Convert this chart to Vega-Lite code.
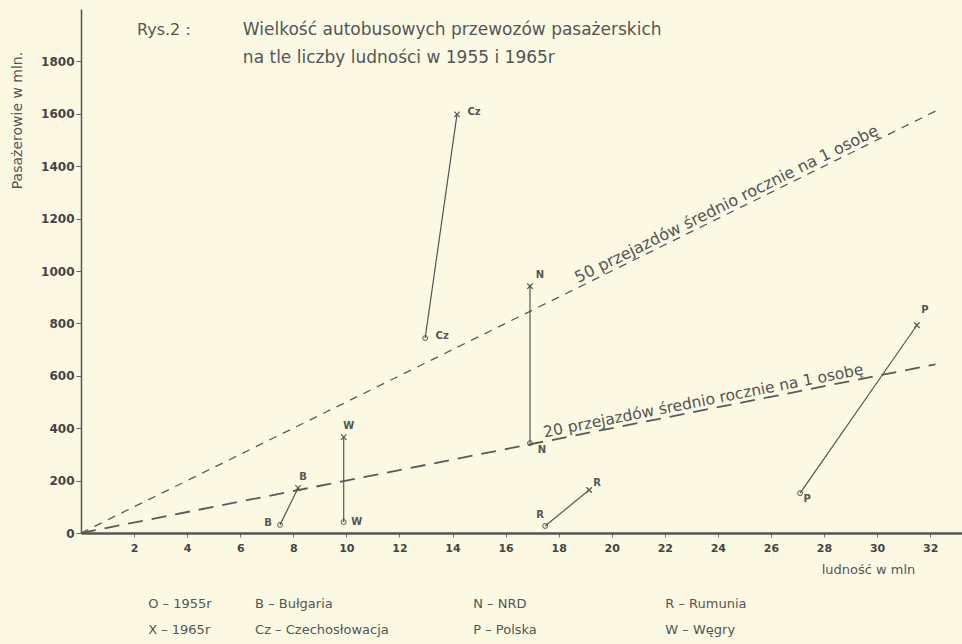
{
  "$schema": "https://vega.github.io/schema/vega-lite/v6.json",
  "width": 881,
  "height": 524,
  "autosize": {"type": "none"},
  "padding": {"left": 81, "top": 9, "right": 0, "bottom": 111},
  "background": "#fbf9e4",
  "config": {
    "view": {"stroke": null},
    "font": "DejaVu Sans",
    "text": {"font": "DejaVu Sans", "color": "#555555"}
  },
  "datasets": {
    "points": [
      {"c": "B", "year": 1955, "pop": 7.5, "pass": 31},
      {"c": "B", "year": 1965, "pop": 8.18, "pass": 172},
      {"c": "W", "year": 1955, "pop": 9.9, "pass": 42},
      {"c": "W", "year": 1965, "pop": 9.9, "pass": 366},
      {"c": "Cz", "year": 1955, "pop": 12.97, "pass": 744},
      {"c": "Cz", "year": 1965, "pop": 14.17, "pass": 1598},
      {"c": "N", "year": 1955, "pop": 16.92, "pass": 343},
      {"c": "N", "year": 1965, "pop": 16.92, "pass": 942},
      {"c": "R", "year": 1955, "pop": 17.49, "pass": 27},
      {"c": "R", "year": 1965, "pop": 19.15, "pass": 164},
      {"c": "P", "year": 1955, "pop": 27.1, "pass": 152},
      {"c": "P", "year": 1965, "pop": 31.5, "pass": 793}
    ],
    "ref": [
      {"rate": "50", "pop": 0, "pass": 0},
      {"rate": "50", "pop": 32.2, "pass": 1610},
      {"rate": "20", "pop": 0, "pass": 0},
      {"rate": "20", "pop": 32.2, "pass": 644}
    ]
  },
  "layer": [
    {
      "data": {"name": "ref"},
      "transform": [{"filter": "datum.rate === '50'"}],
      "mark": {"type": "line", "color": "#5a5a5a", "strokeWidth": 1.3, "strokeDash": [8, 7]},
      "encoding": {
        "detail": {"field": "rate"},
        "x": {
          "field": "pop", "type": "quantitative", "title": "ludność w mln",
          "scale": {"domain": [0, 33.2], "nice": false, "zero": true},
          "axis": {
            "values": [2, 4, 6, 8, 10, 12, 14, 16, 18, 20, 22, 24, 26, 28, 30, 32],
            "grid": false, "domainColor": "#555555", "domainWidth": 2.5,
            "tickColor": "#777777", "tickSize": 4, "tickWidth": 1,
            "labelColor": "#444444", "labelFontSize": 11, "labelFontWeight": "bold",
            "labelPadding": 5, "labelFont": "DejaVu Sans",
            "titleFontSize": 13, "titleFontWeight": "normal",
            "titleColor": "#555555", "titleX": 787, "titleY": 36,
            "titleAlign": "center", "titleBaseline": "middle"
          }
        },
        "y": {
          "field": "pass", "type": "quantitative", "title": "Pasażerowie w mln.",
          "scale": {"domain": [0, 2000], "nice": false},
          "axis": {
            "values": [0, 200, 400, 600, 800, 1000, 1200, 1400, 1600, 1800],
            "format": "d",
            "grid": false, "domainColor": "#555555", "domainWidth": 1.5,
            "tickColor": "#666666", "tickSize": 5, "tickWidth": 1,
            "labelColor": "#444444", "labelFontSize": 12, "labelFontWeight": "bold",
            "labelPadding": 2, "labelFont": "DejaVu Sans",
            "titleFontSize": 14, "titleFontWeight": "normal",
            "titleColor": "#555555", "titleX": -64, "titleY": 111, "titleAngle": -90,
            "titleAlign": "center", "titleBaseline": "middle"
          }
        }
      }
    },
    {
      "data": {"name": "ref"},
      "transform": [{"filter": "datum.rate === '20'"}],
      "mark": {"type": "line", "color": "#5a5a5a", "strokeWidth": 1.8, "strokeDash": [15, 9]},
      "encoding": {
        "detail": {"field": "rate"},
        "x": {"field": "pop", "type": "quantitative", "title": "ludność w mln"},
        "y": {"field": "pass", "type": "quantitative", "title": "Pasażerowie w mln."}
      }
    },
    {
      "data": {"name": "points"},
      "mark": {"type": "line", "color": "#555555", "strokeWidth": 1.2},
      "encoding": {
        "detail": {"field": "c"}, "order": {"field": "year"},
        "x": {"field": "pop", "type": "quantitative", "title": "ludność w mln"},
        "y": {"field": "pass", "type": "quantitative", "title": "Pasażerowie w mln."}
      }
    },
    {
      "data": {"name": "points"},
      "transform": [{"filter": "datum.year === 1955"}],
      "mark": {"type": "point", "shape": "circle", "filled": false, "size": 24, "color": "#555555", "strokeWidth": 1, "opacity": 1},
      "encoding": {
        "x": {"field": "pop", "type": "quantitative", "title": "ludność w mln"},
        "y": {"field": "pass", "type": "quantitative", "title": "Pasażerowie w mln."}
      }
    },
    {
      "data": {"name": "points"},
      "transform": [{"filter": "datum.year === 1965"}],
      "mark": {"type": "point", "shape": "M-1,-1L1,1M-1,1L1,-1", "filled": false, "size": 30, "color": "#555555", "strokeWidth": 1.2, "opacity": 1},
      "encoding": {
        "x": {"field": "pop", "type": "quantitative", "title": "ludność w mln"},
        "y": {"field": "pass", "type": "quantitative", "title": "Pasażerowie w mln."}
      }
    },
    {
      "data": {"name": "points"},
      "transform": [{"filter": "datum.c === 'B' && datum.year === 1955"}],
      "mark": {"type": "text", "fontSize": 10, "fontWeight": "bold", "dx": -12, "dy": -2},
      "encoding": {
        "x": {"field": "pop", "type": "quantitative", "title": "ludność w mln"},
        "y": {"field": "pass", "type": "quantitative", "title": "Pasażerowie w mln."},
        "text": {"field": "c"}
      }
    },
    {
      "data": {"name": "points"},
      "transform": [{"filter": "(datum.c === 'B' || datum.c === 'W') && datum.year === 1965"}],
      "mark": {"type": "text", "fontSize": 10, "fontWeight": "bold", "dx": 5, "dy": -11},
      "encoding": {
        "x": {"field": "pop", "type": "quantitative", "title": "ludność w mln"},
        "y": {"field": "pass", "type": "quantitative", "title": "Pasażerowie w mln."},
        "text": {"field": "c"}
      }
    },
    {
      "data": {"name": "points"},
      "transform": [{"filter": "datum.c === 'W' && datum.year === 1955"}],
      "mark": {"type": "text", "fontSize": 10, "fontWeight": "bold", "dx": 13, "dy": 0},
      "encoding": {
        "x": {"field": "pop", "type": "quantitative", "title": "ludność w mln"},
        "y": {"field": "pass", "type": "quantitative", "title": "Pasażerowie w mln."},
        "text": {"field": "c"}
      }
    },
    {
      "data": {"name": "points"},
      "transform": [{"filter": "datum.c === 'N' && datum.year === 1955"}],
      "mark": {"type": "text", "fontSize": 10, "fontWeight": "bold", "dx": 12, "dy": 7},
      "encoding": {
        "x": {"field": "pop", "type": "quantitative", "title": "ludność w mln"},
        "y": {"field": "pass", "type": "quantitative", "title": "Pasażerowie w mln."},
        "text": {"field": "c"}
      }
    },
    {
      "data": {"name": "points"},
      "transform": [{"filter": "datum.c === 'N' && datum.year === 1965"}],
      "mark": {"type": "text", "fontSize": 10, "fontWeight": "bold", "dx": 10, "dy": -11},
      "encoding": {
        "x": {"field": "pop", "type": "quantitative", "title": "ludność w mln"},
        "y": {"field": "pass", "type": "quantitative", "title": "Pasażerowie w mln."},
        "text": {"field": "c"}
      }
    },
    {
      "data": {"name": "points"},
      "transform": [{"filter": "datum.c === 'Cz'"}],
      "mark": {"type": "text", "fontSize": 10, "fontWeight": "bold", "dx": 17, "dy": -2},
      "encoding": {
        "x": {"field": "pop", "type": "quantitative", "title": "ludność w mln"},
        "y": {"field": "pass", "type": "quantitative", "title": "Pasażerowie w mln."},
        "text": {"field": "c"}
      }
    },
    {
      "data": {"name": "points"},
      "transform": [{"filter": "datum.c === 'R' && datum.year === 1955"}],
      "mark": {"type": "text", "fontSize": 10, "fontWeight": "bold", "dx": -5, "dy": -11},
      "encoding": {
        "x": {"field": "pop", "type": "quantitative", "title": "ludność w mln"},
        "y": {"field": "pass", "type": "quantitative", "title": "Pasażerowie w mln."},
        "text": {"field": "c"}
      }
    },
    {
      "data": {"name": "points"},
      "transform": [{"filter": "datum.c === 'R' && datum.year === 1965"}],
      "mark": {"type": "text", "fontSize": 10, "fontWeight": "bold", "dx": 8, "dy": -7},
      "encoding": {
        "x": {"field": "pop", "type": "quantitative", "title": "ludność w mln"},
        "y": {"field": "pass", "type": "quantitative", "title": "Pasażerowie w mln."},
        "text": {"field": "c"}
      }
    },
    {
      "data": {"name": "points"},
      "transform": [{"filter": "datum.c === 'P' && datum.year === 1955"}],
      "mark": {"type": "text", "fontSize": 10, "fontWeight": "bold", "dx": 7, "dy": 6},
      "encoding": {
        "x": {"field": "pop", "type": "quantitative", "title": "ludność w mln"},
        "y": {"field": "pass", "type": "quantitative", "title": "Pasażerowie w mln."},
        "text": {"field": "c"}
      }
    },
    {
      "data": {"name": "points"},
      "transform": [{"filter": "datum.c === 'P' && datum.year === 1965"}],
      "mark": {"type": "text", "fontSize": 10, "fontWeight": "bold", "dx": 8, "dy": -15},
      "encoding": {
        "x": {"field": "pop", "type": "quantitative", "title": "ludność w mln"},
        "y": {"field": "pass", "type": "quantitative", "title": "Pasażerowie w mln."},
        "text": {"field": "c"}
      }
    },
    {
      "data": {"values": [{"t": "50 przejazdów  średnio rocznie na 1 osobę"}]},
      "mark": {"type": "text", "fontSize": 16, "angle": 333.7, "align": "left", "baseline": "bottom", "dy": -1},
      "encoding": {
        "x": {"datum": 18.8, "type": "quantitative"},
        "y": {"datum": 940, "type": "quantitative"},
        "text": {"field": "t"}
      }
    },
    {
      "data": {"values": [{"t": "20 przejazdów  średnio rocznie na 1 osobę"}]},
      "mark": {"type": "text", "fontSize": 15.5, "angle": 348.8, "align": "left", "baseline": "bottom", "dy": -1},
      "encoding": {
        "x": {"datum": 17.5, "type": "quantitative"},
        "y": {"datum": 350, "type": "quantitative"},
        "text": {"field": "t"}
      }
    },
    {
      "data": {"values": [{"t": "Rys.2 :"}]},
      "mark": {"type": "text", "fontSize": 16, "align": "left", "baseline": "middle"},
      "encoding": {
        "x": {"datum": 2.11, "type": "quantitative"},
        "y": {"datum": 1920, "type": "quantitative"},
        "text": {"field": "t"}
      }
    },
    {
      "data": {"values": [{"t": "Wielkość autobusowych przewozów pasażerskich\nna tle liczby ludności  w 1955 i 1965r"}]},
      "mark": {"type": "text", "fontSize": 17, "align": "left", "baseline": "middle", "lineBreak": "\n", "lineHeight": 28},
      "encoding": {
        "x": {"datum": 6.1, "type": "quantitative"},
        "y": {"datum": 1920, "type": "quantitative"},
        "text": {"field": "t"}
      }
    },
    {
      "data": {"values": [{"t": "O – 1955r\nX – 1965r"}]},
      "mark": {"type": "text", "fontSize": 13, "align": "left", "baseline": "middle", "lineBreak": "\n", "lineHeight": 26},
      "encoding": {
        "x": {"datum": 2.53, "type": "quantitative"},
        "y": {"datum": -271, "type": "quantitative"},
        "text": {"field": "t"}
      }
    },
    {
      "data": {"values": [{"t": "B  –  Bułgaria\nCz – Czechosłowacja"}]},
      "mark": {"type": "text", "fontSize": 13, "align": "left", "baseline": "middle", "lineBreak": "\n", "lineHeight": 26},
      "encoding": {
        "x": {"datum": 6.56, "type": "quantitative"},
        "y": {"datum": -271, "type": "quantitative"},
        "text": {"field": "t"}
      }
    },
    {
      "data": {"values": [{"t": "N  –  NRD\nP  –  Polska"}]},
      "mark": {"type": "text", "fontSize": 13, "align": "left", "baseline": "middle", "lineBreak": "\n", "lineHeight": 26},
      "encoding": {
        "x": {"datum": 14.78, "type": "quantitative"},
        "y": {"datum": -271, "type": "quantitative"},
        "text": {"field": "t"}
      }
    },
    {
      "data": {"values": [{"t": "R  –  Rumunia\nW  –  Węgry"}]},
      "mark": {"type": "text", "fontSize": 13, "align": "left", "baseline": "middle", "lineBreak": "\n", "lineHeight": 26},
      "encoding": {
        "x": {"datum": 22.02, "type": "quantitative"},
        "y": {"datum": -271, "type": "quantitative"},
        "text": {"field": "t"}
      }
    }
  ]
}
